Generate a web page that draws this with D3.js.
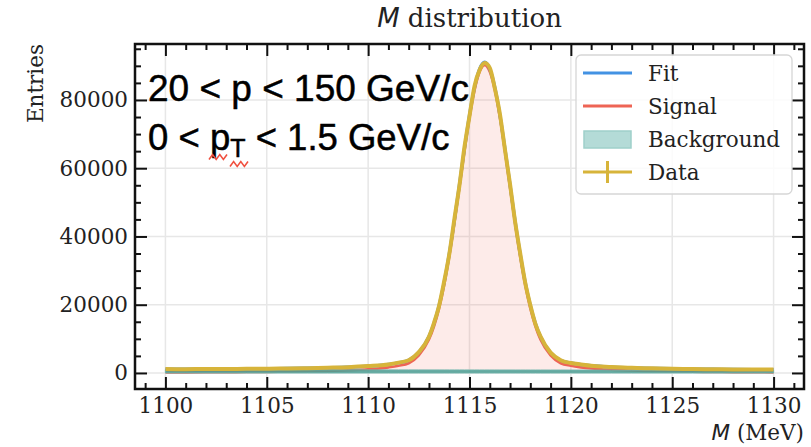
<!DOCTYPE html>
<html>
<head>
<meta charset="utf-8">
<script src="https://cdn.jsdelivr.net/npm/d3@7"></script>
<style>
  body { margin: 0; background: #fff; }
  svg { display: block; }
  text { font-family: "DejaVu Serif", serif; fill: #222; }
</style>
</head>
<body>
<div id="chart"></div>
<script>
// values (M in MeV, counts per bin)
const mass = [1100, 1101, 1102, 1103, 1104, 1105, 1106, 1107, 1108, 1109, 1110,
  1111, 1111.5, 1112, 1112.5, 1113, 1113.25, 1113.5, 1113.75, 1114, 1114.25, 1114.5, 1114.75,
  1115, 1115.25, 1115.5, 1115.75, 1116, 1116.25, 1116.5, 1116.75, 1117, 1117.25, 1117.5, 1117.75,
  1118, 1118.25, 1118.5, 1119, 1119.5, 1120, 1120.5, 1121, 1122, 1123, 1124, 1125, 1126, 1127,
  1128, 1129, 1130];

const dataCounts = [1130, 1110, 1170, 1160, 1230, 1240, 1330, 1390, 1530, 1690, 2010,
  2500, 3030, 3710, 6110, 10600, 14700, 19700, 26800, 34700, 44900, 54800, 66100,
  75300, 84100, 88800, 90800, 89400, 83400, 75900, 65400, 55300, 44300, 35100, 26400,
  19900, 14400, 10750, 5950, 3730, 2910, 2490, 2110, 1770, 1500, 1370, 1230, 1170, 1090,
  1050, 990, 980];

const fitCounts = [1110, 1130, 1150, 1170, 1205, 1250, 1315, 1400, 1510, 1695, 1980,
  2525, 2990, 3740, 6035, 10680, 14570, 19820, 26600, 34925, 44555, 55095, 65740,
  75630, 83730, 89115, 91065, 89115, 83725, 75620, 65730, 55080, 44535, 34905, 26575,
  19790, 14540, 10650, 5995, 3695, 2940, 2465, 2135, 1750, 1520, 1360, 1245, 1165, 1100,
  1040, 1000, 965];

const signalCounts = [150, 175, 200, 230, 270, 320, 390, 480, 600, 790, 1080,
  1630, 2100, 2850, 5150, 9800, 13690, 18940, 25720, 34050, 43680, 54220, 64870,
  74760, 82860, 88250, 90200, 88250, 82860, 74760, 64870, 54220, 43680, 34050, 25720,
  18940, 13690, 9800, 5150, 2850, 2100, 1630, 1300, 920, 700, 545, 435, 360, 300,
  250, 215, 185];

const backgroundCounts = [960, 955, 950, 940, 935, 930, 925, 920, 910, 905, 900,
  895, 890, 890, 885, 880, 880, 880, 880, 875, 875, 875, 870,
  870, 870, 865, 865, 865, 865, 860, 860, 860, 855, 855, 855,
  850, 850, 850, 845, 845, 840, 835, 835, 830, 820, 815, 810, 805, 800,
  790, 785, 780];

const xTicks = [1100, 1105, 1110, 1115, 1120, 1125, 1130];
const yTicks = [0, 20000, 40000, 60000, 80000];
const legendLabels = ["Fit", "Signal", "Background", "Data"];
const annotationLines = ["20 < p < 150 GeV/c", "0 < p", "T", " < 1.5 GeV/c"];

const width = 811, height = 447;
const margin = {top: 44, right: 7, bottom: 58, left: 135};
const innerW = width - margin.left - margin.right;
const innerH = height - margin.top - margin.bottom;

const colors = {
  fit: "#4392e3",
  signal: "#ee6455",
  bkg: "#4a9d93",
  bkgPatch: "#b4dbd7",
  data: "#d7b43a",
  grid: "#e7e7e7"
};

const rows = mass.map((m, i) => ({
  m: m, data: dataCounts[i], fit: fitCounts[i], sig: signalCounts[i], bkg: backgroundCounts[i]
}));

const x = d3.scaleLinear().domain([1098.5, 1131.5]).range([0, innerW]);
const y = d3.scaleLinear().domain([-4700, 96400]).range([innerH, 0]);

const svg = d3.select("#chart").append("svg")
  .attr("width", width).attr("height", height)
  .attr("viewBox", [0, 0, width, height]);

svg.append("defs").append("clipPath").attr("id", "clip")
  .append("rect").attr("width", innerW).attr("height", innerH);

const g = svg.append("g").attr("transform", `translate(${margin.left},${margin.top})`);

// grid
g.append("g").selectAll("line.gx").data(xTicks).join("line")
  .attr("x1", d => x(d)).attr("x2", d => x(d)).attr("y1", 0).attr("y2", innerH)
  .attr("stroke", colors.grid).attr("stroke-width", 1.5);
g.append("g").selectAll("line.gy").data(yTicks).join("line")
  .attr("x1", 0).attr("x2", innerW).attr("y1", d => y(d)).attr("y2", d => y(d))
  .attr("stroke", colors.grid).attr("stroke-width", 1.5);

const plot = g.append("g").attr("clip-path", "url(#clip)");
const curve = d3.curveMonotoneX;

// signal fill + line
plot.append("path").datum(rows)
  .attr("d", d3.area().curve(curve).x(d => x(d.m)).y0(y(0)).y1(d => y(d.sig)))
  .attr("fill", colors.signal).attr("fill-opacity", 0.13);
plot.append("path").datum(rows)
  .attr("d", d3.line().curve(curve).x(d => x(d.m)).y(d => y(d.sig)))
  .attr("fill", "none").attr("stroke", colors.signal).attr("stroke-width", 2.6);

// background band
plot.append("path").datum(rows)
  .attr("d", d3.area().curve(curve).x(d => x(d.m)).y0(y(0)).y1(d => y(d.bkg)))
  .attr("fill", colors.bkg).attr("fill-opacity", 0.85)
  .attr("stroke", "#6db3aa").attr("stroke-width", 1);

// fit
plot.append("path").datum(rows)
  .attr("d", d3.line().curve(curve).x(d => x(d.m)).y(d => y(d.fit)))
  .attr("fill", "none").attr("stroke", colors.fit).attr("stroke-width", 3.2);

// data
plot.append("path").datum(rows)
  .attr("d", d3.line().curve(curve).x(d => x(d.m)).y(d => y(d.data)))
  .attr("fill", "none").attr("stroke", colors.data).attr("stroke-width", 4)
  .attr("stroke-linejoin", "round");

// axes: inward ticks on all four sides
const minorX = d3.range(1099, 1132, 1).filter(v => v % 5 !== 0);
const minorY = d3.range(5000, 96000, 5000).filter(v => v % 20000 !== 0);
const fontSize = "21.5px";

function styleAxis(sel) {
  sel.select(".domain").remove();
  sel.selectAll(".tick line").attr("stroke", "#111").attr("stroke-width", 2);
  sel.selectAll(".tick text").attr("font-size", fontSize).attr("fill", "#222")
    .attr("font-family", "DejaVu Serif, serif");
}

g.append("g").attr("transform", `translate(0,${innerH})`)
  .call(d3.axisBottom(x).tickValues(xTicks).tickSize(-12).tickPadding(9).tickFormat(d3.format("d")))
  .call(styleAxis);
g.append("g").attr("transform", `translate(0,${innerH})`)
  .call(d3.axisBottom(x).tickValues(minorX).tickSize(-6).tickFormat(""))
  .call(styleAxis);
g.append("g")
  .call(d3.axisTop(x).tickValues(xTicks).tickSize(-12).tickFormat(""))
  .call(styleAxis);
g.append("g")
  .call(d3.axisTop(x).tickValues(minorX).tickSize(-6).tickFormat(""))
  .call(styleAxis);

g.append("g")
  .call(d3.axisLeft(y).tickValues(yTicks).tickSize(-12).tickPadding(7).tickFormat(d3.format("d")))
  .call(styleAxis);
g.append("g")
  .call(d3.axisLeft(y).tickValues(minorY).tickSize(-6).tickFormat(""))
  .call(styleAxis);
g.append("g").attr("transform", `translate(${innerW},0)`)
  .call(d3.axisRight(y).tickValues(yTicks).tickSize(-12).tickFormat(""))
  .call(styleAxis);
g.append("g").attr("transform", `translate(${innerW},0)`)
  .call(d3.axisRight(y).tickValues(minorY).tickSize(-6).tickFormat(""))
  .call(styleAxis);

g.append("rect").attr("width", innerW).attr("height", innerH)
  .attr("fill", "none").attr("stroke", "#111").attr("stroke-width", 2.5);

// labels
const title = svg.append("text").attr("x", margin.left + innerW / 2).attr("y", 27)
  .attr("text-anchor", "middle").attr("font-size", "26px");
title.append("tspan").attr("font-family", "DejaVu Sans, sans-serif").attr("font-style", "italic").text("M");
title.append("tspan").text(" distribution");

const xl = svg.append("text").attr("x", margin.left + innerW).attr("y", 440)
  .attr("text-anchor", "end").attr("font-size", fontSize);
xl.append("tspan").attr("font-family", "DejaVu Sans, sans-serif").attr("font-style", "italic").text("M");
xl.append("tspan").text(" (MeV)");

svg.append("text").attr("transform", `translate(43,${margin.top}) rotate(-90)`)
  .attr("text-anchor", "end").attr("font-size", fontSize).text("Entries");

// kinematic range annotation
const annFont = "Liberation Sans, Arial, sans-serif";
svg.append("text").attr("x", 148).attr("y", 101).attr("font-size", "37px")
  .style("font-family", annFont).style("fill", "#000")
  .attr("stroke", "#000").attr("stroke-width", 0.5)
  .text(annotationLines[0]);
const l2 = svg.append("text").attr("x", 148).attr("y", 150).attr("font-size", "36.5px")
  .style("font-family", annFont).style("fill", "#000")
  .attr("stroke", "#000").attr("stroke-width", 0.5);
l2.append("tspan").text(annotationLines[1]);
l2.append("tspan").attr("font-size", "25px").attr("dy", 7).text(annotationLines[2]);
l2.append("tspan").attr("dy", -7).text(annotationLines[3]);

// spell-check squiggles under p_T
function squiggle(x0, x1, y0) {
  const pts = [];
  for (let xx = x0, k = 0; xx <= x1; xx += 3.6, k++) pts.push([xx, y0 + (k % 2 ? -2.4 : 2.4)]);
  return d3.line()(pts);
}
svg.append("path").attr("d", squiggle(209, 230, 157))
  .attr("fill", "none").attr("stroke", "#f0503f").attr("stroke-width", 1.6);
svg.append("path").attr("d", squiggle(230, 251, 164))
  .attr("fill", "none").attr("stroke", "#f0503f").attr("stroke-width", 1.6);

// legend
const lg = svg.append("g").attr("transform", "translate(576,55)");
lg.append("rect").attr("width", 216).attr("height", 139).attr("rx", 5)
  .attr("fill", "#fff").attr("fill-opacity", 0.82)
  .attr("stroke", "#d6d6d6").attr("stroke-width", 1.3);

const items = lg.selectAll("g.item").data(legendLabels).join("g")
  .attr("transform", (d, i) => `translate(0,${18 + i * 33})`);
items.append("text").attr("x", 72).attr("y", 8).attr("font-size", fontSize).text(d => d);

items.filter(d => d === "Fit").append("line")
  .attr("x1", 7).attr("x2", 56).attr("stroke", colors.fit).attr("stroke-width", 3);
items.filter(d => d === "Signal").append("line")
  .attr("x1", 7).attr("x2", 56).attr("stroke", colors.signal).attr("stroke-width", 3);
items.filter(d => d === "Background").append("rect")
  .attr("x", 8).attr("y", -8).attr("width", 47).attr("height", 17)
  .attr("fill", colors.bkgPatch).attr("stroke", "#9fd0ca").attr("stroke-width", 1.5);
const dataItem = items.filter(d => d === "Data");
dataItem.append("line").attr("x1", 7).attr("x2", 56).attr("stroke", colors.data).attr("stroke-width", 3);
dataItem.append("line").attr("x1", 31.5).attr("x2", 31.5).attr("y1", -11).attr("y2", 11)
  .attr("stroke", colors.data).attr("stroke-width", 3);
</script>
</body>
</html>
